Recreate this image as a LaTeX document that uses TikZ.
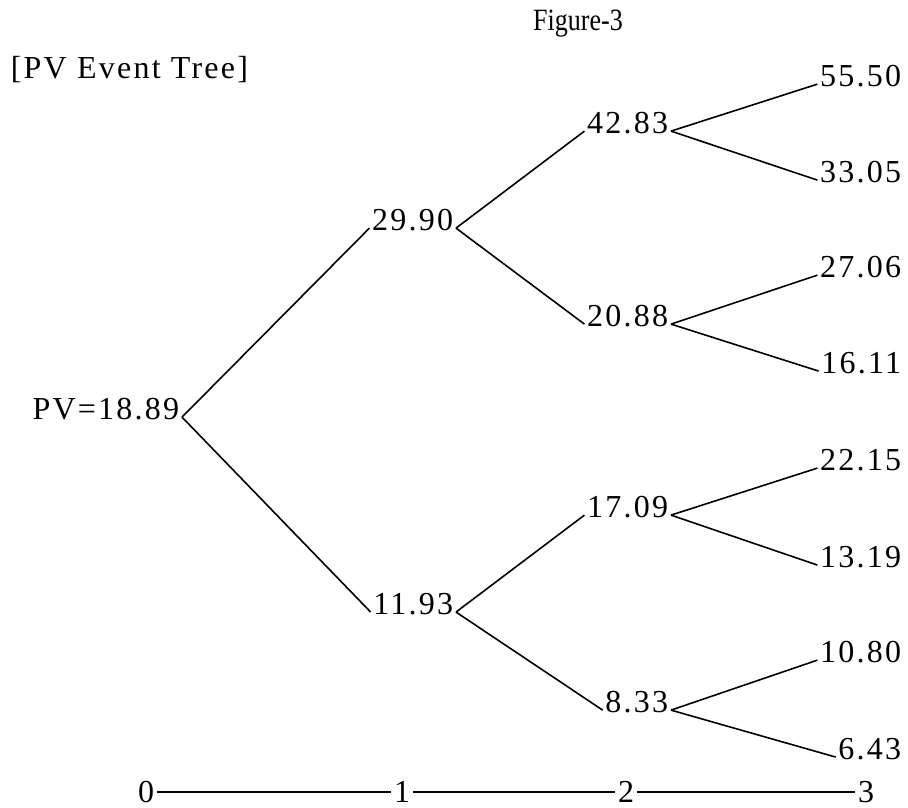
\documentclass[tikz,border=0pt]{standalone}
\usepackage{fontspec}
\setmainfont{Liberation Serif}
\newfontfamily\numfont{Liberation Serif}[LetterSpace=7]
\newfontfamily\capfont{Liberation Serif}[FakeStretch=0.84]

\begin{document}
\begin{tikzpicture}
    [x=1pt,y=-1pt,line width=1.6pt,
     every node/.style={inner sep=2pt,font=\numfont\fontsize{32}{38}\selectfont}]
    \useasboundingbox (0,0) rectangle (908,807);
    % titles
    \node (fig) at (578,24) [font=\capfont\fontsize{31}{36}\selectfont] {Figure-3};
    \node (ttl) at (8,70) [anchor=west] {[PV Event Tree]};
    % tree
    \node (pv) at (182,409) [anchor=east] {PV=18.89};
    \node (u)  at (456,220) [anchor=east] {29.90};
    \node (d)  at (456,604) [anchor=east] {11.93};
    \node (uu) at (671,123) [anchor=east] {42.83};
    \node (ud) at (671,316) [anchor=east] {20.88};
    \node (du) at (671,507) [anchor=east] {17.09};
    \node (dd) at (671,702) [anchor=east] {8.33};
    \node (uuu) at (904,76)  [anchor=east] {55.50};
    \node (uud) at (904,172) [anchor=east] {33.05};
    \node (udu) at (904,267) [anchor=east] {27.06};
    \node (udd) at (904,363) [anchor=east] {16.11};
    \node (duu) at (904,460) [anchor=east] {22.15};
    \node (dud) at (904,557) [anchor=east] {13.19};
    \node (ddu) at (904,652) [anchor=east] {10.80};
    \node (ddd) at (904,749) [anchor=east] {6.43};
    % time axis
    \node (t0) at (146,792) {0};
    \node (t1) at (402,792) {1};
    \node (t2) at (626,792) {2};
    \node (t3) at (866,792) {3};
    \foreach \from/\to in {pv/u,pv/d,u/uu,u/ud,d/du,d/dd,
                           uu/uuu,uu/uud,ud/udu,ud/udd,du/duu,du/dud,dd/ddu,dd/ddd}
      \draw (\from.mid east) -- (\to.mid west);
    \foreach \from/\to in {t0/t1,t1/t2,t2/t3}
      \draw (\from) -- (\to);
\end{tikzpicture}
\end{document}
